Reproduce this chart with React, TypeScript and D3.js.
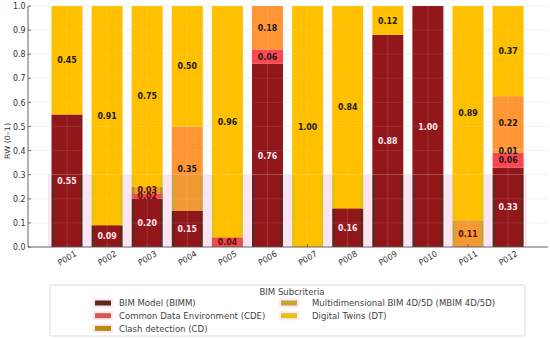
import React from "react";
import * as d3 from "d3";

const categories = ["P001","P002","P003","P004","P005","P006","P007","P008","P009","P010","P011","P012"];
const seriesNames = ["BIM Model (BIMM)","Common Data Environment (CDE)","Clash detection (CD)","Multidimensional BIM 4D/5D (MBIM 4D/5D)","Digital Twins (DT)"];
const bimm = [0.55,0.09,0.20,0.15,0,0.76,0,0.16,0.88,1.00,0,0.33];
const cde  = [0,0,0.02,0,0.04,0.06,0,0,0,0,0,0.062];
const cd   = [0,0,0.03,0,0,0,0,0,0,0,0,0.012];
const mbim = [0,0,0,0.35,0,0.18,0,0,0,0,0.11,0.222];
const dt   = [0.45,0.91,0.75,0.50,0.96,0,1.00,0.84,0.12,0,0.89,0.374];
const yTicks = [0,0.1,0.2,0.3,0.4,0.5,0.6,0.7,0.8,0.9,1.0];
const bandTop = 0.3;

const overlayColors = ["#91171b","#fb4650","#f5a030","#ff9633","#ffc000"];
const legendColors = ["#5b2a1b","#d45a4e","#b88a0e","#c4a53a","#e2c40e"];

const SX = 0.93;
const FONT = "DejaVu Sans, sans-serif";

function T(props: any) {
  const { x, y, rot, children, ...rest } = props;
  return (
    <text transform={`translate(${x},${y}) scale(${SX},1)${rot ? ` rotate(${rot})` : ""}`} fontFamily={FONT} {...rest}>
      {children}
    </text>
  );
}

export default function App() {
  const W = 550, H = 339;
  const series = [bimm, cde, cd, mbim, dt];
  const x = d3.scaleBand<string>().domain(categories).range([46.95, 528.15]).paddingInner(0.227).paddingOuter(0.1135);
  const y = d3.scaleLinear().domain([0, 1]).range([247, 6]);
  const bw = x.bandwidth();
  const stackData = categories.map((c, i) => {
    const o: any = { cat: c };
    series.forEach((s, k) => (o["s" + k] = s[i]));
    return o;
  });
  const stack = d3.stack().keys(series.map((_, k) => "s" + k))(stackData as any);
  const inset = 2.5;

  const rects: any[] = [];
  const under: any[] = [];
  const labels: any[] = [];
  stack.forEach((layer, k) => {
    layer.forEach((d: any, i: number) => {
      const v = d[1] - d[0];
      if (v <= 0) return;
      const cat = categories[i];
      const x0 = x(cat)!;
      const aboveLo = Math.max(d[0], bandTop);
      if (d[1] > aboveLo) {
        rects.push(<rect key={`a${k}-${i}`} x={x0} y={y(d[1])} width={bw} height={y(aboveLo) - y(d[1])} fill={overlayColors[k]} />);
      }
      const bandHi = Math.min(d[1], bandTop);
      if (bandHi > d[0]) {
        under.push(<rect key={`u${k}-${i}`} x={x0} y={y(bandHi)} width={bw} height={y(d[0]) - y(bandHi)} fill={legendColors[k]} />);
        rects.push(<rect key={`b${k}-${i}`} x={x0 + inset} y={y(bandHi)} width={bw - 2 * inset} height={y(d[0]) - y(bandHi)} fill={overlayColors[k]} opacity={k === 0 || k === 4 ? 1 : 0.8} />);
      }
      const mid = (d[0] + d[1]) / 2;
      let col = "#1a1a1a";
      if (k === 0) col = "#ffe8ee";
      else if (mid < bandTop) col = "#5a0a0a";
      labels.push(
        <T key={`l${k}-${i}`} x={x0 + bw / 2} y={y(mid)} textAnchor="middle" dominantBaseline="central" fontSize={8.5} fontWeight="bold" fill={col}>
          {series[k][i].toFixed(2)}
        </T>
      );
    });
  });

  const legendItems = seriesNames.map((n, k) => {
    const col = k < 3 ? 0 : 1;
    const row = k < 3 ? k : k - 3;
    const sx = col === 0 ? 95 : 281;
    const tx = col === 0 ? 119 : 312;
    const ly = 303 + row * 12.7;
    return (
      <g key={n}>
        <rect x={sx - 2} y={ly - 4.5} width={20} height={9} fill="#fde6f5" />
        <rect x={sx} y={ly - 2.5} width={16} height={5} fill={legendColors[k]} />
        <T x={tx} y={ly} dominantBaseline="central" fontSize={9.2} fill="#444">{n}</T>
      </g>
    );
  });

  return (
    <svg width={W} height={H} style={{ display: "block", position: "absolute", left: 0, top: 0 }}>
      <rect width={W} height={H} fill="#fff" />
      {yTicks.slice(1).map((t) => (
        <line key={`g${t}`} x1={28} x2={548} y1={y(t)} y2={y(t)} stroke="#ececec" strokeWidth={0.8} />
      ))}
      <rect x={48} y={y(bandTop)} width={479} height={y(0) - y(bandTop)} fill="#fde4f4" />
      {under}
      {rects}
      {yTicks.slice(1).map((t) => (
        <line key={`go${t}`} x1={48} x2={527} y1={y(t)} y2={y(t)} stroke="#ffffff" strokeOpacity={0.12} strokeWidth={0.8} />
      ))}
      {categories.map((c) => (
        <line key={`v${c}`} x1={x(c)! + bw / 2} x2={x(c)! + bw / 2} y1={6} y2={247} stroke="#ffffff" strokeOpacity={0.15} strokeWidth={0.8} />
      ))}
      {labels}
      <line x1={28} x2={28} y1={6} y2={247} stroke="#555" strokeWidth={0.9} />
      <line x1={28} x2={548} y1={247} y2={247} stroke="#555" strokeWidth={0.9} />
      {yTicks.map((t) => (
        <g key={`yt${t}`}>
          <line x1={28} x2={31} y1={y(t)} y2={y(t)} stroke="#555" strokeWidth={0.8} />
          <T x={25.5} y={y(t)} textAnchor="end" dominantBaseline="central" fontSize={8.5} fill="#333">{t.toFixed(1)}</T>
        </g>
      ))}
      {categories.map((c) => (
        <g key={`xt${c}`}>
          <line x1={x(c)! + bw / 2} x2={x(c)! + bw / 2} y1={247} y2={244} stroke="#555" strokeWidth={0.8} />
          <T x={x(c)! + bw / 2} y={258} rot={-30} textAnchor="middle" dominantBaseline="central" fontSize={8.5} fill="#333">{c}</T>
        </g>
      ))}
      <T x={8} y={141} rot={-90} textAnchor="middle" dominantBaseline="central" fontSize={8} fill="#333">RW (0–1)</T>
      <rect x={50} y={285} width={475} height={51} rx={2} fill="#fff" stroke="#d0d0d0" strokeWidth={0.8} />
      <T x={292} y={292} textAnchor="middle" dominantBaseline="central" fontSize={9.2} fill="#444">BIM Subcriteria</T>
      {legendItems}
    </svg>
  );
}
